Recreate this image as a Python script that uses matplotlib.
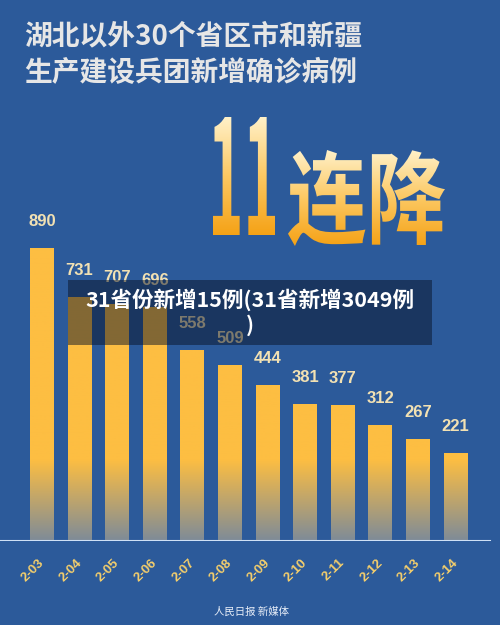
import numpy as np
import matplotlib.pyplot as plt
from matplotlib.textpath import TextPath
from matplotlib.font_manager import FontProperties
from matplotlib.patches import PathPatch, Rectangle
from matplotlib.path import Path
from matplotlib.colors import LinearSegmentedColormap
from matplotlib.transforms import Affine2D

plt.rcParams['font.family'] = ['Noto Sans CJK SC', 'DejaVu Sans']

# data
dates = ['2-03', '2-04', '2-05', '2-06', '2-07', '2-08',
         '2-09', '2-10', '2-11', '2-12', '2-13', '2-14']
new_cases = [890, 731, 707, 696, 558, 509, 444, 381, 377, 312, 267, 221]
title_lines = ['湖北以外30个省区市和新疆', '生产建设兵团新增确诊病例']
big_num = '11'
big_word = '连降'
caption = '31省份新增15例(31省新增3049例\n)'
footer = '人民日报 新媒体'

bg = '#2c5a9a'
bar_yellow = np.array([253, 190, 66]) / 255
bar_gray = np.array([126, 139, 152]) / 255

fig = plt.figure(figsize=(5, 6.25), dpi=100)
fig.patch.set_facecolor(bg)

# background axes in pixel units (y down)
bga = fig.add_axes([0, 0, 1, 1], zorder=0)
bga.set_xlim(0, 500)
bga.set_ylim(625, 0)
bga.axis('off')
bga.set_facecolor(bg)

for k, line in enumerate(title_lines):
    bga.text(24, 36 + 37 * k, line, fontsize=20, fontweight='bold',
             color='#e6e6e6', va='center', ha='left')

# big gradient words
fp = FontProperties(family='Noto Sans CJK SC', weight='bold')
gold = LinearSegmentedColormap.from_list('gold', ['#fff1c9', '#fcc862', '#f5a216'])


def gradient_word(s, x0, x1, y0, y1):
    tp = TextPath((0, 0), s, size=1, prop=fp)
    ext = tp.get_extents()
    tr = (Affine2D().translate(-ext.x0, -ext.y1)
          .scale((x1 - x0) / ext.width, -(y1 - y0) / ext.height)
          .translate(x0, y0))
    patch = PathPatch(tr.transform_path(tp), facecolor='none', edgecolor='none')
    bga.add_patch(patch)
    im = bga.imshow(np.linspace(0, 1, 256).reshape(-1, 1), cmap=gold,
                    extent=(x0, x1, y1, y0), aspect='auto', zorder=2)
    im.set_clip_path(patch)


gradient_word(big_num, 213, 275, 117, 235)
gradient_word(big_word, 288, 445, 150, 246)
bga.set_xlim(0, 500)
bga.set_ylim(625, 0)

# main bar axes
pad = 65
ax = fig.add_axes([0, (625 - 541) / 625, 1, 441 / 625], zorder=1)
ax.set_facecolor('none')
ax.axis('off')
x = np.arange(len(dates))
vals = np.array(new_cases)
bars = ax.bar(x, vals + pad, bottom=-pad, width=0.64, color='none', edgecolor='none')

clip = Path.make_compound_path(*[b.get_path().transformed(b.get_patch_transform())
                                 for b in bars])
clip_patch = PathPatch(clip, transform=ax.transData, facecolor='none', edgecolor='none')
ax.add_patch(clip_patch)
ys = np.linspace(1000, -pad, 400)
t = np.clip((ys + pad) / (200 + pad), 0, 1)[:, None]
grad = bar_gray * (1 - t) + bar_yellow * t
img = ax.imshow(grad[:, None, :], extent=(-1, 12, -pad, 1000), aspect='auto', zorder=2)
img.set_clip_path(clip_patch)

xmin = -42 / 500 * 11 * 500 / 413.6
ax.set_xlim(xmin, xmin + 11 * 500 / 413.6)
ax.set_ylim(-pad, 441 / 0.307 - pad)

ax.axhline(-pad, 0, 0.98, color='#cfe0f6', lw=1.5, zorder=3)

for xi, v in zip(x, new_cases):
    ax.annotate(str(v), (xi, v), xytext=(0, 19), textcoords='offset points',
                ha='center', va='center', fontsize=12, fontweight='bold',
                family='Liberation Sans', color='#f2e1b3', zorder=4)

for xi, d in zip(x, dates):
    ax.annotate(d, (xi, -pad), xytext=(-6.5, -21), textcoords='offset points',
                ha='center', va='center', rotation=45, fontsize=9.5,
                fontweight='bold', family='Liberation Sans', color='#f5cf6c')

# caption overlay
fig.add_artist(Rectangle((68 / 500, 1 - 345 / 625), 364 / 500, 65 / 625,
                         transform=fig.transFigure, facecolor='#0a1428',
                         alpha=0.5, edgecolor='none', zorder=5))
fig.text(250 / 500, 1 - 312 / 625, caption, ha='center', va='center',
         fontsize=15.5, fontweight='bold', color='white', zorder=6,
         linespacing=1.2)

fig.text(252 / 500, 1 - 612 / 625, footer, ha='center', va='center',
         fontsize=7.5, color='#e8eef8')

fig.savefig('out.png', dpi=100, facecolor=bg)
